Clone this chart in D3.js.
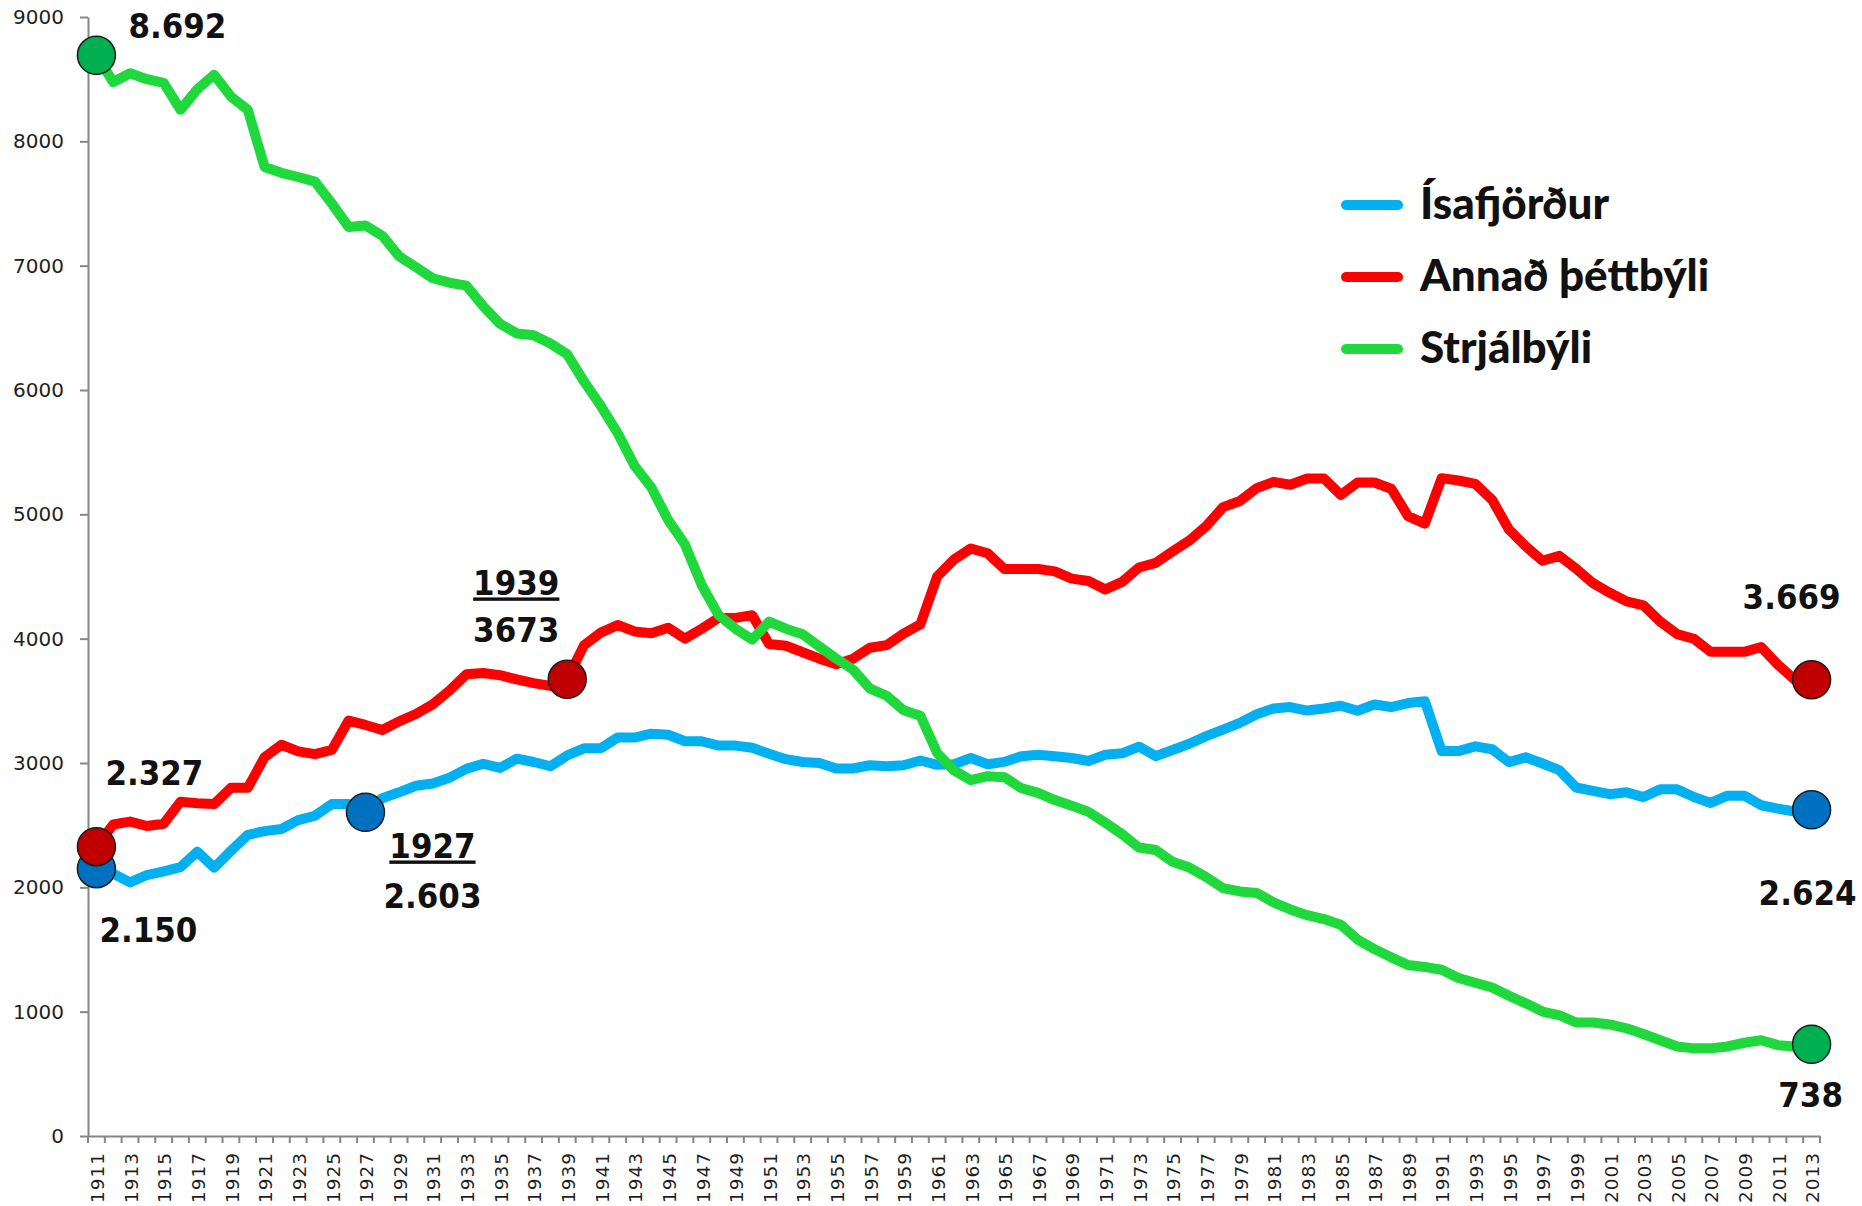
<!DOCTYPE html>
<html>
<head>
<meta charset="utf-8">
<script src="https://cdn.jsdelivr.net/npm/d3@7"></script>
<style>
  body { margin: 0; background: #fff; }
  .axis path, .axis line { stroke: #868686; stroke-width: 2; }
  .axis text { font-family: "DejaVu Sans", Verdana, sans-serif; fill: #1f1f1f; }
  .note { font-family: "DejaVu Sans", Verdana, sans-serif; font-weight: bold; font-size: 31px; fill: #111; }
  .legend text { font-family: Lato, "Noto Sans", sans-serif; font-weight: 900; font-size: 44px; fill: #111; }
</style>
</head>
<body>
<script>
// Íbúafjöldi 1911-2013
var years = d3.range(1911, 2014);

var isafjordur = [2150,2110,2040,2099,2128,2163,2287,2158,2293,2422,
  2452,2469,2540,2576,2670,2670,2603,2717,2764,2817,
  2835,2882,2953,2994,2960,3035,3008,2974,3061,3118,
  3118,3205,3205,3236,3227,3175,3175,3140,3140,3122,
  3074,3031,3008,3000,2956,2956,2982,2974,2982,3020,
  2985,2990,3040,2990,3009,3055,3066,3055,3040,3016,
  3066,3078,3131,3055,3105,3155,3216,3269,3323,3392,
  3438,3450,3422,3438,3460,3420,3470,3450,3482,3497,
  3096,3096,3134,3111,3007,3046,2996,2942,2803,2776,
  2749,2764,2726,2788,2788,2726,2679,2737,2737,2660,
  2633,2610,2624];

var annadThettbyli = [2327,2505,2529,2493,2511,2688,2676,2670,2800,2800,
  3047,3147,3094,3071,3105,3341,3306,3265,3335,3394,
  3471,3583,3713,3724,3706,3672,3642,3620,3673,3948,
  4049,4110,4058,4044,4088,4000,4080,4167,4167,4189,
  3957,3943,3891,3839,3795,3839,3927,3948,4040,4115,
  4500,4637,4725,4687,4560,4560,4560,4541,4483,4464,
  4396,4457,4572,4610,4702,4790,4905,5058,5107,5211,
  5261,5238,5288,5288,5156,5256,5256,5206,4986,4925,
  5291,5272,5245,5117,4878,4743,4627,4666,4562,4446,
  4369,4300,4268,4137,4037,3999,3894,3894,3894,3933,
  3790,3670,3669];

var strjalbyli = [8692,8477,8548,8500,8471,8254,8419,8536,8360,8254,
  7794,7747,7713,7676,7500,7311,7323,7241,7076,6988,
  6899,6863,6840,6675,6533,6455,6440,6374,6287,6068,
  5871,5653,5391,5216,4955,4757,4430,4189,4080,3992,
  4137,4080,4036,3936,3839,3751,3598,3541,3424,3380,
  3080,2940,2863,2894,2886,2798,2760,2702,2657,2607,
  2519,2427,2320,2300,2205,2159,2082,1994,1967,1955,
  1879,1822,1776,1745,1700,1580,1503,1437,1375,1360,
  1337,1271,1233,1194,1128,1067,1001,971,913,913,
  897,866,820,770,720,705,705,720,750,770,
  731,720,738];

var seriesNames = ["Ísafjörður", "Annað þéttbýli", "Strjálbýli"];
var yTicks = [0,1000,2000,3000,4000,5000,6000,7000,8000,9000];

// merktir punktar: röð, ár, texti
var marked = [
  {s: 0, year: 1911, text: ["2.150"]},
  {s: 0, year: 1927, text: ["1927", "2.603"]},
  {s: 0, year: 2013, text: ["2.624"]},
  {s: 1, year: 1911, text: ["2.327"]},
  {s: 1, year: 1939, text: ["1939", "3673"]},
  {s: 1, year: 2013, text: ["3.669"]},
  {s: 2, year: 1911, text: ["8.692"]},
  {s: 2, year: 2013, text: ["738"]}
];

// staðsetning texta miðað við punkt (dx = miðja texta)
var noteOffsets = [
  {dx: 52, dy: [73]},
  {dx: 67, dy: [46, 96]},
  {dx: -4, dy: [95]},
  {dx: 58, dy: [-62]},
  {dx: -51, dy: [-84, -37]},
  {dx: -20, dy: [-71]},
  {dx: 81, dy: [-17]},
  {dx: -1, dy: [63]}
];

var lineColors = ["#00b0f0", "#ff0000", "#1fd83c"];
var dotColors = ["#0070c0", "#c00000", "#00b050"];

var margin = {top: 17, right: 42, bottom: 70, left: 88},
    width = 1862 - margin.left - margin.right,
    height = 1206 - margin.top - margin.bottom;

var x = d3.scaleBand().domain(years).range([0, width]);
var y = d3.scaleLinear().domain([0, 9000]).range([height, 0]);

var svg = d3.select("body").append("svg")
    .attr("width", width + margin.left + margin.right)
    .attr("height", height + margin.top + margin.bottom)
  .append("g")
    .attr("transform", "translate(" + margin.left + "," + margin.top + ")");

function cx(yr) { return x(yr) + x.bandwidth() / 2; }

// y ás
svg.append("g")
    .attr("class", "y axis")
    .call(d3.axisLeft(y).tickValues(yTicks).tickSize(8).tickPadding(16).tickSizeOuter(0).tickFormat(d3.format("d")))
  .selectAll("text")
    .style("font-size", "20px");

// x ás, merki á milli ára
var xg = svg.append("g")
    .attr("class", "x axis")
    .attr("transform", "translate(0," + height + ")");

xg.call(d3.axisBottom(x).tickValues(years.filter(function(d) { return d % 2 == 1; })).tickSize(0).tickSizeOuter(0))
  .selectAll("text")
    .style("font-size", "18.5px")
    .style("letter-spacing", "1px")
    .style("text-anchor", "end")
    .attr("x", -16)
    .attr("y", 0)
    .attr("dy", "0.42em")
    .attr("transform", "rotate(-90)");

xg.selectAll(".bound")
    .data(years.concat([null]))
  .enter().append("line")
    .attr("class", "bound")
    .attr("x1", function(d) { return d == null ? width : x(d); })
    .attr("x2", function(d) { return d == null ? width : x(d); })
    .attr("y1", 0)
    .attr("y2", 7);

// línur
var series = [isafjordur, annadThettbyli, strjalbyli];

var line = d3.line()
    .x(function(d, i) { return cx(years[i]); })
    .y(function(d) { return y(d); });

svg.selectAll(".line")
    .data(series)
  .enter().append("path")
    .attr("class", "line")
    .attr("fill", "none")
    .attr("stroke", function(d, i) { return lineColors[i]; })
    .attr("stroke-width", 10)
    .attr("stroke-linejoin", "round")
    .attr("d", line);

// punktar
svg.selectAll(".dot")
    .data(marked)
  .enter().append("circle")
    .attr("class", "dot")
    .attr("cx", function(d) { return cx(d.year); })
    .attr("cy", function(d) { return y(series[d.s][d.year - 1911]); })
    .attr("r", 19)
    .attr("fill", function(d) { return dotColors[d.s]; })
    .attr("stroke", "#1b1b1b")
    .attr("stroke-width", 1.5);

// textar við punkta
marked.forEach(function(m, i) {
  var px = cx(m.year), py = y(series[m.s][m.year - 1911]);
  m.text.forEach(function(t, j) {
    svg.append("text")
        .attr("class", "note")
        .attr("text-anchor", "middle")
        .attr("transform", "translate(" + (px + noteOffsets[i].dx) + "," + (py + noteOffsets[i].dy[j]) + ") scale(1,1.1)")
        .style("text-decoration", m.text.length > 1 && j == 0 ? "underline" : null)
        .text(t);
  });
});

// skýringar
var legend = svg.append("g")
    .attr("class", "legend")
    .attr("transform", "translate(1254,188)");

var item = legend.selectAll("g")
    .data(seriesNames)
  .enter().append("g")
    .attr("transform", function(d, i) { return "translate(0," + (i * 72) + ")"; });

item.append("line")
    .attr("x1", 4).attr("x2", 56)
    .attr("stroke", function(d, i) { return lineColors[i]; })
    .attr("stroke-width", 10)
    .attr("stroke-linecap", "round");

item.append("text")
    .attr("x", 78)
    .attr("y", 14)
    .text(function(d) { return d; });
</script>
</body>
</html>
